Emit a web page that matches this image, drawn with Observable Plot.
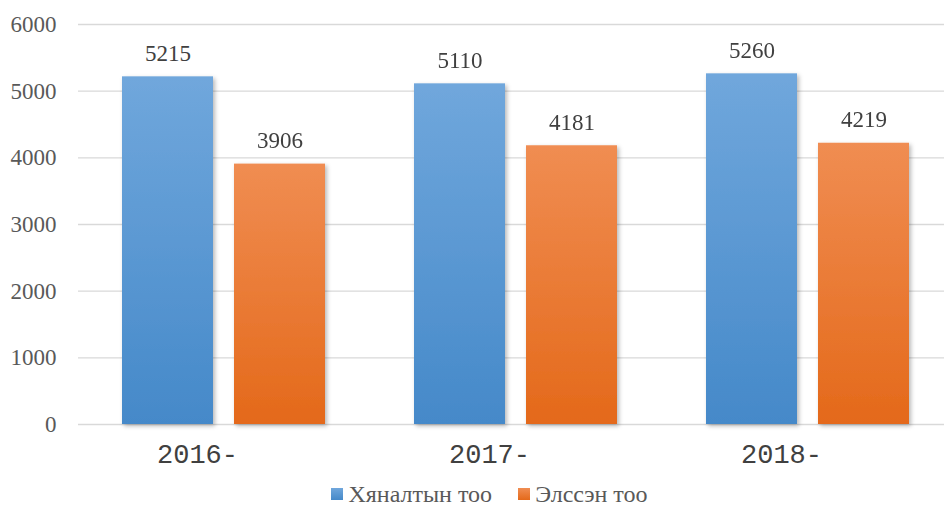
<!DOCTYPE html>
<html>
<head>
<meta charset="utf-8">
<script src="https://cdn.jsdelivr.net/npm/d3@7"></script>
<script src="https://cdn.jsdelivr.net/npm/@observablehq/plot@0.6"></script>
<style>
  html, body { margin: 0; padding: 0; background: #fff; overflow: hidden; }
  #chart svg { display: block; overflow: visible; }
  .legend { display: flex; justify-content: center; align-items: center; padding-left: 35px;
    font-family: "Liberation Serif", "DejaVu Serif", "Noto Serif", serif; font-size: 24px; color: #595959; height: 24px; }
  .legend .item { display: flex; align-items: center; margin: 0 13px; }
  .legend .sw { width: 12px; height: 12px; margin-right: 5px; }
</style>
</head>
<body>
<div id="chart"></div>
<script>
const years = ["2016", "2017", "2018"];
const yearLabels = ["2016-", "2017-", "2018-"];
const seriesNames = ["Хяналтын тоо", "Элссэн тоо"];
const controlCounts = [5215, 5110, 5260];
const enrolledCounts = [3906, 4181, 4219];
const yTicks = [0, 1000, 2000, 3000, 4000, 5000, 6000];

const rows = [];
years.forEach((y, i) => {
  rows.push({year: y, series: seriesNames[0], value: controlCounts[i]});
  rows.push({year: y, series: seriesNames[1], value: enrolledCounts[i]});
});
const labelOf = new Map(years.map((y, i) => [y, yearLabels[i]]));

const serif = "'Liberation Serif', 'DejaVu Serif', 'Noto Serif', serif";

const svg = Plot.plot({
  width: 944,
  height: 482,
  marginLeft: 77,
  marginRight: -11,
  marginTop: 24,
  marginBottom: 58,
  style: {fontFamily: serif, background: "#fff"},
  fx: {domain: years, padding: 0, label: null},
  x: {domain: seriesNames, paddingInner: 0.187, paddingOuter: 0.396, axis: null},
  y: {domain: [0, 6000], label: null},
  marks: [
    Plot.ruleY(yTicks, {stroke: "#d9d9d9", strokeWidth: 1.3}),
    Plot.barY(rows.filter(d => d.series === seriesNames[0]), {fx: "year", x: "series", y: "value", fill: "url(#gBlue)"}),
    Plot.barY(rows.filter(d => d.series === seriesNames[1]), {fx: "year", x: "series", y: "value", fill: "url(#gOrange)"}),
    Plot.text(rows, {fx: "year", x: "series", y: "value", text: d => String(d.value), lineAnchor: "bottom", dy: -16,
      fontSize: 23, fill: "#404040", fontFamily: serif}),
    Plot.axisY({ticks: yTicks, tickSize: 0, tickPadding: 22, fontSize: 23, fill: "#595959", label: null,
      fontFamily: serif, tickFormat: d => String(d)}),
    Plot.axisFx({anchor: "bottom", tickSize: 0, tickPadding: 19, fontSize: 27, dx: -27,
      fontFamily: "'Liberation Mono', 'Courier New', monospace", fill: "#404040", label: null,
      tickFormat: d => labelOf.get(d)})
  ]
});

const defs = d3.select(svg).insert("defs", ":first-child");
function grad(id, top, bottom) {
  const g = defs.append("linearGradient").attr("id", id).attr("x1", 0).attr("y1", 0).attr("x2", 0).attr("y2", 1);
  g.append("stop").attr("offset", "0%").attr("stop-color", top);
  g.append("stop").attr("offset", "100%").attr("stop-color", bottom);
}
grad("gBlue", "#70a7dc", "#4589c9");
grad("gOrange", "#f08d52", "#e4691a");
const f = defs.append("filter").attr("id", "shadow").attr("x", "-10%").attr("y", "-10%").attr("width", "130%").attr("height", "130%");
f.append("feDropShadow").attr("dx", 2).attr("dy", 2).attr("stdDeviation", 2).attr("flood-color", "#000").attr("flood-opacity", 0.28);
d3.select(svg).selectAll("g[aria-label='bar']").attr("filter", "url(#shadow)");

document.getElementById("chart").appendChild(svg);

const legend = document.createElement("div");
legend.className = "legend";
seriesNames.forEach((name, i) => {
  const item = document.createElement("div");
  item.className = "item";
  const sw = document.createElement("div");
  sw.className = "sw";
  sw.style.background = `linear-gradient(${i === 0 ? "#70a7dc, #4589c9" : "#f08d52, #e4691a"})`;
  const t = document.createElement("span");
  t.textContent = name;
  item.appendChild(sw);
  item.appendChild(t);
  legend.appendChild(item);
});
document.body.appendChild(legend);
</script>
</body>
</html>
